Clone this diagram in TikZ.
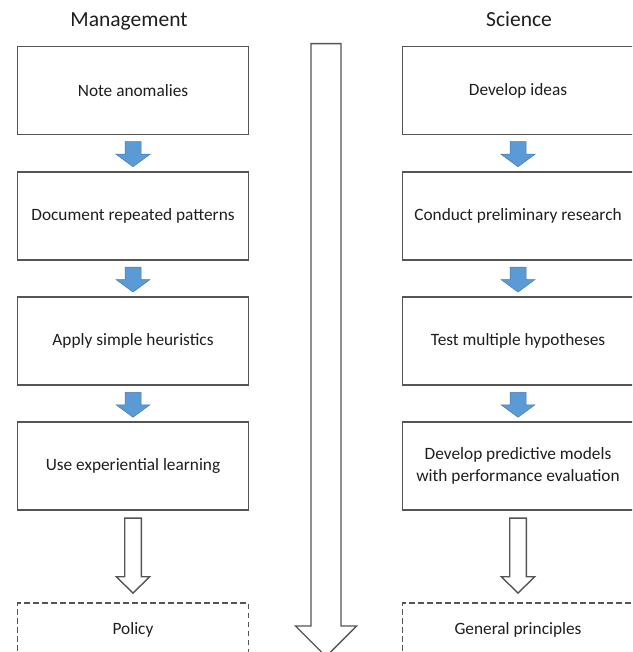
\documentclass[tikz,border=0pt]{standalone}
\usepackage{fontspec}
\setmainfont{Carlito}
\definecolor{boxline}{RGB}{85,85,85}
\definecolor{arrowblue}{RGB}{91,155,213}
\definecolor{arrowedge}{RGB}{70,120,175}
\definecolor{txt}{RGB}{30,30,30}
\begin{document}
\begin{tikzpicture}[x=1pt,y=-1pt,
  box/.style={draw=boxline, line width=1.5pt, minimum width=231pt, minimum height=88pt,
    inner sep=0pt, align=center, text=txt, font=\fontsize{17.3}{22}\selectfont},
  dashbox/.style={box, dashed, dash pattern=on 5.5pt off 3.5pt, line width=1.2pt, minimum height=54pt},
  title/.style={anchor=base, text=txt, font=\fontsize{21.5}{26}\selectfont, inner sep=0pt},
  bluearrow/.style={fill=arrowblue, draw=arrowedge, line width=0.5pt},
  hollow/.style={draw=boxline, line width=1.4pt, fill=white, line join=miter}]
\useasboundingbox (0,0) rectangle (632,652);
\clip (0,0) rectangle (632,652);

% titles
\node[title] (tm) at (129,26.7) {Management};
\node[title] (ts) at (519,26.7) {Science};

% left column
\node[box] (m1) at (133,90.5) {Note anomalies};
\node[box] (m2) at (133,215.8) {Document repeated patterns};
\node[box] (m3) at (133,341) {Apply simple heuristics};
\node[box] (m4) at (133,466) {Use experiential learning};
\node[dashbox] (mp) at (133,630) {Policy};

% right column
\node[box] (s1) at (518,90.5) {Develop ideas};
\node[box] (s2) at (518,215.8) {Conduct preliminary research};
\node[box] (s3) at (518,341) {Test multiple hypotheses};
\node[box] (s4) at (518,466) {Develop predictive models\\with performance evaluation};
\node[dashbox] (sp) at (518,630) {General principles};

% blue block arrows between boxes
\foreach \a/\b in {m1/m2,m2/m3,m3/m4,s1/s2,s2/s3,s3/s4}{
  \path (\a.south) ++(0,6.5) coordinate (t);
  \draw[bluearrow] (t) ++(-8,0) -- ++(16,0) -- ++(0,12.5) -- ++(9,0)
     -- ++(-17,12.5) -- ++(-17,-12.5) -- ++(9,0) -- cycle;
}

% hollow arrows to the dashed boxes
\foreach \a in {m4,s4}{
  \path (\a.south) ++(0,7.3) coordinate (h);
  \draw[hollow] (h) ++(-8.3,0) -- ++(16.6,0) -- ++(0,58.7) -- ++(8.4,0)
     -- ++(-16.7,16.3) -- ++(-16.7,-16.3) -- ++(8.4,0) -- cycle;
}

% central long arrow
\coordinate (ctop) at (326,43.7);
\draw[hollow] (ctop) ++(-15,0) -- ++(30,0) -- ++(0,582.3) -- ++(15.5,0)
   -- ++(-30.5,30.5) -- ++(-30.5,-30.5) -- ++(15.5,0) -- cycle;
\end{tikzpicture}
\end{document}
